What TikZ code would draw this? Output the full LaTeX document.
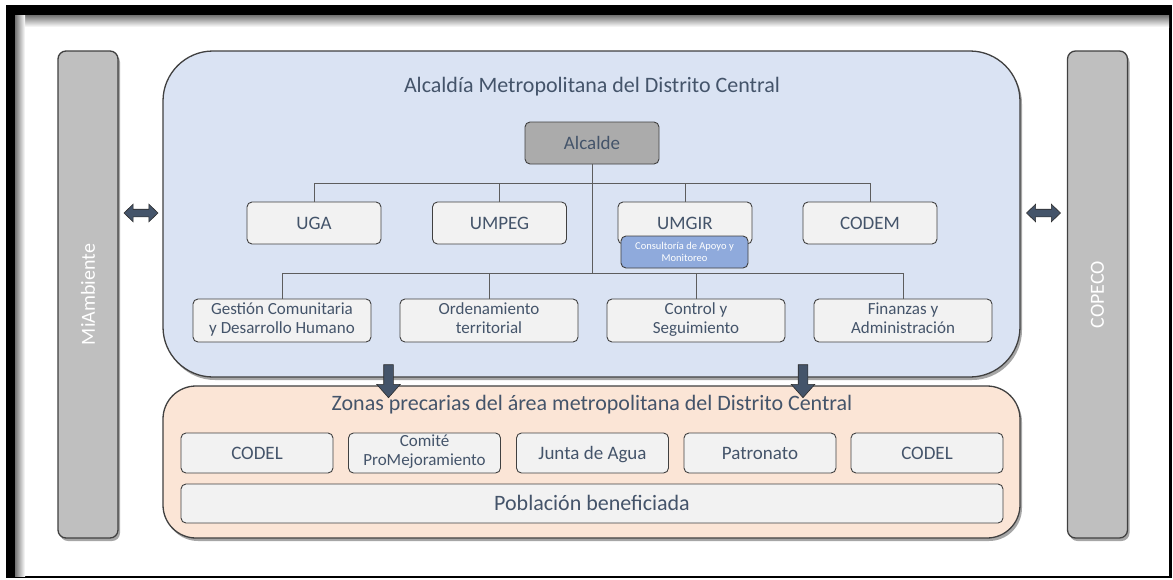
\documentclass[tikz,border=0pt]{standalone}
\usepackage{fontspec}
\setmainfont{Carlito}
\usetikzlibrary{shapes.arrows,shadows,positioning}

\definecolor{slatetxt}{HTML}{44546A}
\definecolor{edgegray}{HTML}{404040}
\definecolor{panelblue}{HTML}{DAE3F3}
\definecolor{panelpeach}{HTML}{FBE5D6}
\definecolor{unitfill}{HTML}{F2F2F2}
\definecolor{barfill}{HTML}{BFBFBF}
\definecolor{headfill}{HTML}{ABABAB}
\definecolor{consfill}{HTML}{8FAADC}

\tikzset{
  softshadow/.style={drop shadow={shadow xshift=2pt,shadow yshift=-3pt,opacity=0.35,fill=black}},
  panel/.style={draw=edgegray,line width=1.3pt,softshadow},
  sidebar/.style={panel,fill=barfill,rounded corners=8pt,minimum width=60,minimum height=487,text=white,
    font=\fontsize{20}{22}\selectfont},
  unitbox/.style={draw=edgegray,line width=0.9pt,fill=unitfill,rounded corners=5pt,text=slatetxt,
    align=center,inner sep=1pt},
  oneline/.style={text height=#1,text depth=0pt},
  twolines/.style={execute at begin node=\strut,execute at end node=\strut},
  topunit/.style={unitbox,oneline=12.2pt,minimum width=134,minimum height=42,font=\fontsize{19}{21}\selectfont},
  subunit/.style={unitbox,twolines,minimum width=178,minimum height=43,font=\fontsize{17}{19}\selectfont},
  localunit/.style={unitbox,oneline=12.2pt,minimum width=152,minimum height=40,font=\fontsize{19}{20}\selectfont},
  orgline/.style={draw=edgegray!85,line width=0.8pt},
  sidearrow/.style={double arrow,draw=edgegray!70!black,fill=slatetxt,line width=0.6pt,inner sep=3.5pt,
    minimum width=17pt,minimum height=34pt,double arrow head extend=5pt,double arrow tip angle=88},
  downarrow/.style={single arrow,draw=edgegray!70!black,fill=slatetxt,line width=0.6pt,inner sep=4.5pt,
    minimum width=23pt,minimum height=33pt,single arrow head extend=7pt,single arrow tip angle=83,
    shape border rotate=270},
}

\begin{document}
\begin{tikzpicture}[x=1pt,y=-1pt]
  \useasboundingbox (0,0) rectangle (1173,579);
  % frame
  \fill[black] (6,5) rectangle (1172,578);
  \fill[white] (15,15) rectangle (1169,576);
  \shade[top color=black!55,bottom color=white] (15,15) rectangle (1169,27);
  \shade[left color=black!55,right color=white] (15,15) rectangle (25,576);

  % side actors
  \node[sidebar] (miamb) at (88,294.5) {\rotatebox{90}{MiAmbiente}};
  \node[sidebar] (copeco) at (1097.5,294.5) {\rotatebox{90}{COPECO}};

  % municipality
  \node[panel,fill=panelblue,rounded corners=50pt,minimum width=857,minimum height=326] (amdc) at (591.5,214) {};
  \node[anchor=base,text=slatetxt,font=\fontsize{22}{24}\selectfont] (amdctitle) at (592,92) {Alcaldía Metropolitana del Distrito Central};

  % precarious zones
  \node[panel,fill=panelpeach,rounded corners=33pt,minimum width=857,minimum height=152] (zonas) at (591.5,462) {};
  \node[anchor=base,text=slatetxt,font=\fontsize{22}{24}\selectfont] (zonastitle) at (592,410) {Zonas precarias del área metropolitana del Distrito Central};

  \node[sidearrow] (leftlink) at (141,213) {};
  \node[sidearrow] (rightlink) at (1043.5,213) {};

  % org chart
  \node[topunit,fill=headfill] (alcalde) at (592,143) {Alcalde};
  \node[topunit] (uga) at (314,223) {UGA};
  \node[topunit] (umpeg) at (499.5,223) {UMPEG};
  \node[topunit] (umgir) at (685,223) {UMGIR};
  \node[topunit] (codem) at (870,223) {CODEM};

  \node[subunit] (gestion) at (282,320.5) {Gestión Comunitaria\\y Desarrollo Humano};
  \node[subunit] (ordena) at (489,320.5) {Ordenamiento\\territorial};
  \node[subunit] (control) at (696,320.5) {Control y\\Seguimiento};
  \node[subunit] (finanzas) at (903,320.5) {Finanzas y\\Administración};

  \coordinate (busA) at (592,183);
  \coordinate (busB) at (592,273);
  \draw[orgline] (alcalde.south) -- (busB);
  \draw[orgline] (uga.north) -- (uga.north |- busA) -- (codem.north |- busA) -- (codem.north);
  \draw[orgline] (umpeg.north) -- (umpeg.north |- busA);
  \draw[orgline] (umgir.north) -- (umgir.north |- busA);
  \draw[orgline] (gestion.north) -- (gestion.north |- busB) -- (finanzas.north |- busB) -- (finanzas.north);
  \draw[orgline] (ordena.north) -- (ordena.north |- busB);
  \draw[orgline] (control.north) -- (control.north |- busB);

  \node[unitbox,fill=consfill,text=white,minimum width=127,minimum height=32,
    font=\fontsize{10.5}{12}\selectfont] (consultoria) at (684.5,252) {Consultoría de Apoyo y\\Monitoreo};

  \node[downarrow] (downleft) at (388.5,378.5) {};
  \node[downarrow] (downright) at (803,378.5) {};

  % local organisations
  \node[localunit] (codelA) at (257,453) {CODEL};
  \node[unitbox,twolines,minimum width=152,minimum height=40,font=\fontsize{17}{19}\selectfont] (comite) at (424.5,453) {Comité\\ProMejoramiento};
  \node[localunit] (junta) at (592.5,453) {Junta de Agua};
  \node[localunit] (patronato) at (760,453) {Patronato};
  \node[localunit] (codelB) at (927,453) {CODEL};
  \node[unitbox,oneline=14.2pt,minimum width=822,minimum height=39,font=\fontsize{22}{24}\selectfont] (poblacion) at (592,503.5) {Población beneficiada};
\end{tikzpicture}
\end{document}
